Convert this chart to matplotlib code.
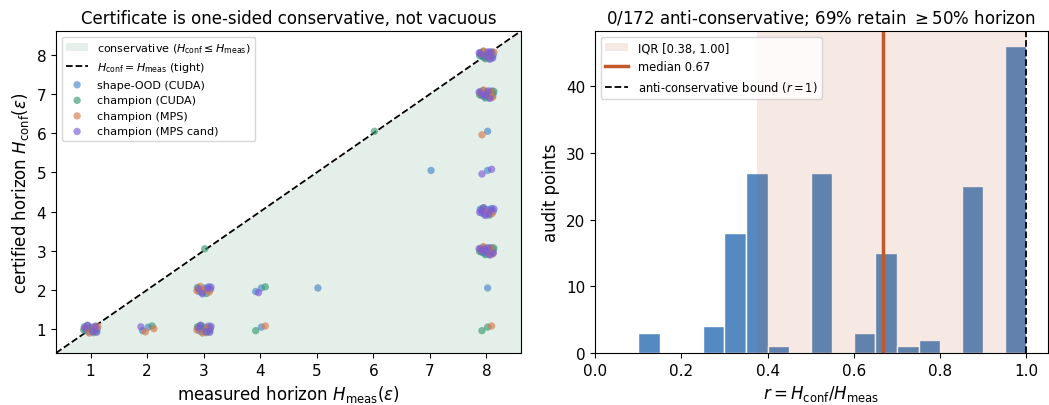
import numpy as np
import matplotlib
matplotlib.use("Agg")
import matplotlib.pyplot as plt

# audit points: (measured horizon, certified horizon, count) per group
groups = ["shape-OOD (CUDA)", "champion (CUDA)", "champion (MPS)", "champion (MPS cand)"]
colors = ["#4a86c8", "#3a9a72", "#d9774a", "#7d5bd6"]

shape_ood_cuda = [(1, 1, 6), (2, 1, 2), (3, 1, 5), (3, 2, 5), (4, 1, 1), (4, 2, 2),
                  (5, 2, 1), (7, 5, 1), (8, 2, 1), (8, 3, 8), (8, 4, 6), (8, 5, 1),
                  (8, 6, 1), (8, 7, 8), (8, 8, 7)]
champion_cuda = [(1, 1, 5), (2, 1, 1), (3, 1, 5), (3, 2, 2), (3, 3, 1), (4, 1, 1),
                 (4, 2, 1), (6, 6, 1), (8, 1, 2), (8, 3, 7), (8, 4, 2), (8, 7, 7),
                 (8, 8, 6)]
champion_mps = [(1, 1, 4), (2, 1, 2), (3, 1, 3), (3, 2, 4), (4, 1, 1), (8, 1, 1),
                (8, 3, 5), (8, 4, 2), (8, 6, 1), (8, 7, 5), (8, 8, 4)]
champion_mps_cand = [(1, 1, 5), (2, 1, 1), (3, 1, 5), (3, 2, 4), (4, 2, 1), (8, 3, 7),
                     (8, 4, 7), (8, 5, 2), (8, 7, 5), (8, 8, 7)]
all_groups = [shape_ood_cuda, champion_cuda, champion_mps, champion_mps_cand]

# hand-placed jitter so the stacked points stay visible
jit_x = [0.02, -0.08, 0.09, -0.03, 0.12, -0.11, 0.05, -0.06, 0.10, 0.00, -0.12, 0.07, -0.02, 0.13,
         -0.09, 0.04, -0.05, 0.11, -0.10, 0.08, -0.01, 0.06, -0.13, 0.03, -0.07, 0.12, -0.04, 0.09]
jit_y = [0.05, -0.04, 0.08, -0.07, 0.01, 0.06, -0.09, 0.09, -0.05, 0.00, -0.02, 0.04, -0.10, 0.07,
         0.03, -0.06, 0.10, -0.08, 0.02, 0.06, -0.03, -0.11, 0.05, 0.08, -0.01, -0.06, 0.04, 0.02]

fig = plt.figure(figsize=(10.49, 4.06), dpi=100)
ax1 = fig.add_axes([56 / 1049, 52 / 406, 465 / 1049, 322 / 406])
ax2 = fig.add_axes([595 / 1049, 52 / 406, 453 / 1049, 322 / 406])

lo, hi = 0.39, 8.61
ax1.fill_between([lo, hi], [lo, lo], [lo, hi], color="#e3efe8", lw=0,
                 label=r"conservative ($H_{\rm conf} \leq H_{\rm meas}$)")
ax1.plot([lo, hi], [lo, hi], "k--", lw=1.3, label=r"$H_{\rm conf} = H_{\rm meas}$ (tight)")

ratios = []
slot = {}
for name, col, pts in zip(groups, colors, all_groups):
    xs, ys = [], []
    for hm, hc, n in pts:
        for _ in range(n):
            k = slot.get((hm, hc), 0)
            slot[(hm, hc)] = k + 1
            xs.append(hm + jit_x[k % len(jit_x)])
            ys.append(hc + jit_y[k % len(jit_y)])
            ratios.append(hc / hm)
    ax1.scatter(xs, ys, s=28, color=col, alpha=0.65, edgecolors="none", label=name, zorder=3)

ax1.set_xlim(lo, hi)
ax1.set_ylim(lo, hi)
ax1.set_xticks(range(1, 9))
ax1.set_yticks(range(1, 9))
ax1.tick_params(labelsize=11)
ax1.set_xlabel(r"measured horizon $H_{\rm meas}(\varepsilon)$", fontsize=12)
ax1.set_ylabel(r"certified horizon $H_{\rm conf}(\varepsilon)$", fontsize=12)
ax1.set_title("Certificate is one-sided conservative, not vacuous", fontsize=12)
ax1.legend(loc="upper left", fontsize=8)

ratios = np.array(ratios)
med = np.median(ratios)
q1, q3 = np.percentile(ratios, [25, 75])
bins = np.arange(21) / 20
ax2.hist(ratios, bins=bins, color="#5589c2", edgecolor="white", lw=1)
ax2.axvspan(q1, q3, color="#c1592a", alpha=0.13, lw=0, label=f"IQR [{q1:.2f}, {q3:.2f}]")
ax2.axvline(med, color="#c1592a", lw=2.5, label=f"median {med:.2f}")
ax2.axvline(1.0, color="k", ls="--", lw=1.3, label=r"anti-conservative bound ($r=1$)")
ax2.set_xlim(0, 1.05)
ax2.set_ylim(0, 48.3)
ax2.tick_params(labelsize=11)
ax2.set_xlabel(r"$r = H_{\rm conf}/H_{\rm meas}$", fontsize=12)
ax2.set_ylabel("audit points", fontsize=12)
n_anti = int((ratios > 1).sum())
keep = 100 * (ratios >= 0.5).mean()
ax2.set_title(rf"{n_anti}/{len(ratios)} anti-conservative; {keep:.0f}% retain $\geq$50% horizon",
              fontsize=12)
ax2.legend(loc="upper left", fontsize=8.3)

fig.savefig("out.png", dpi=100)
